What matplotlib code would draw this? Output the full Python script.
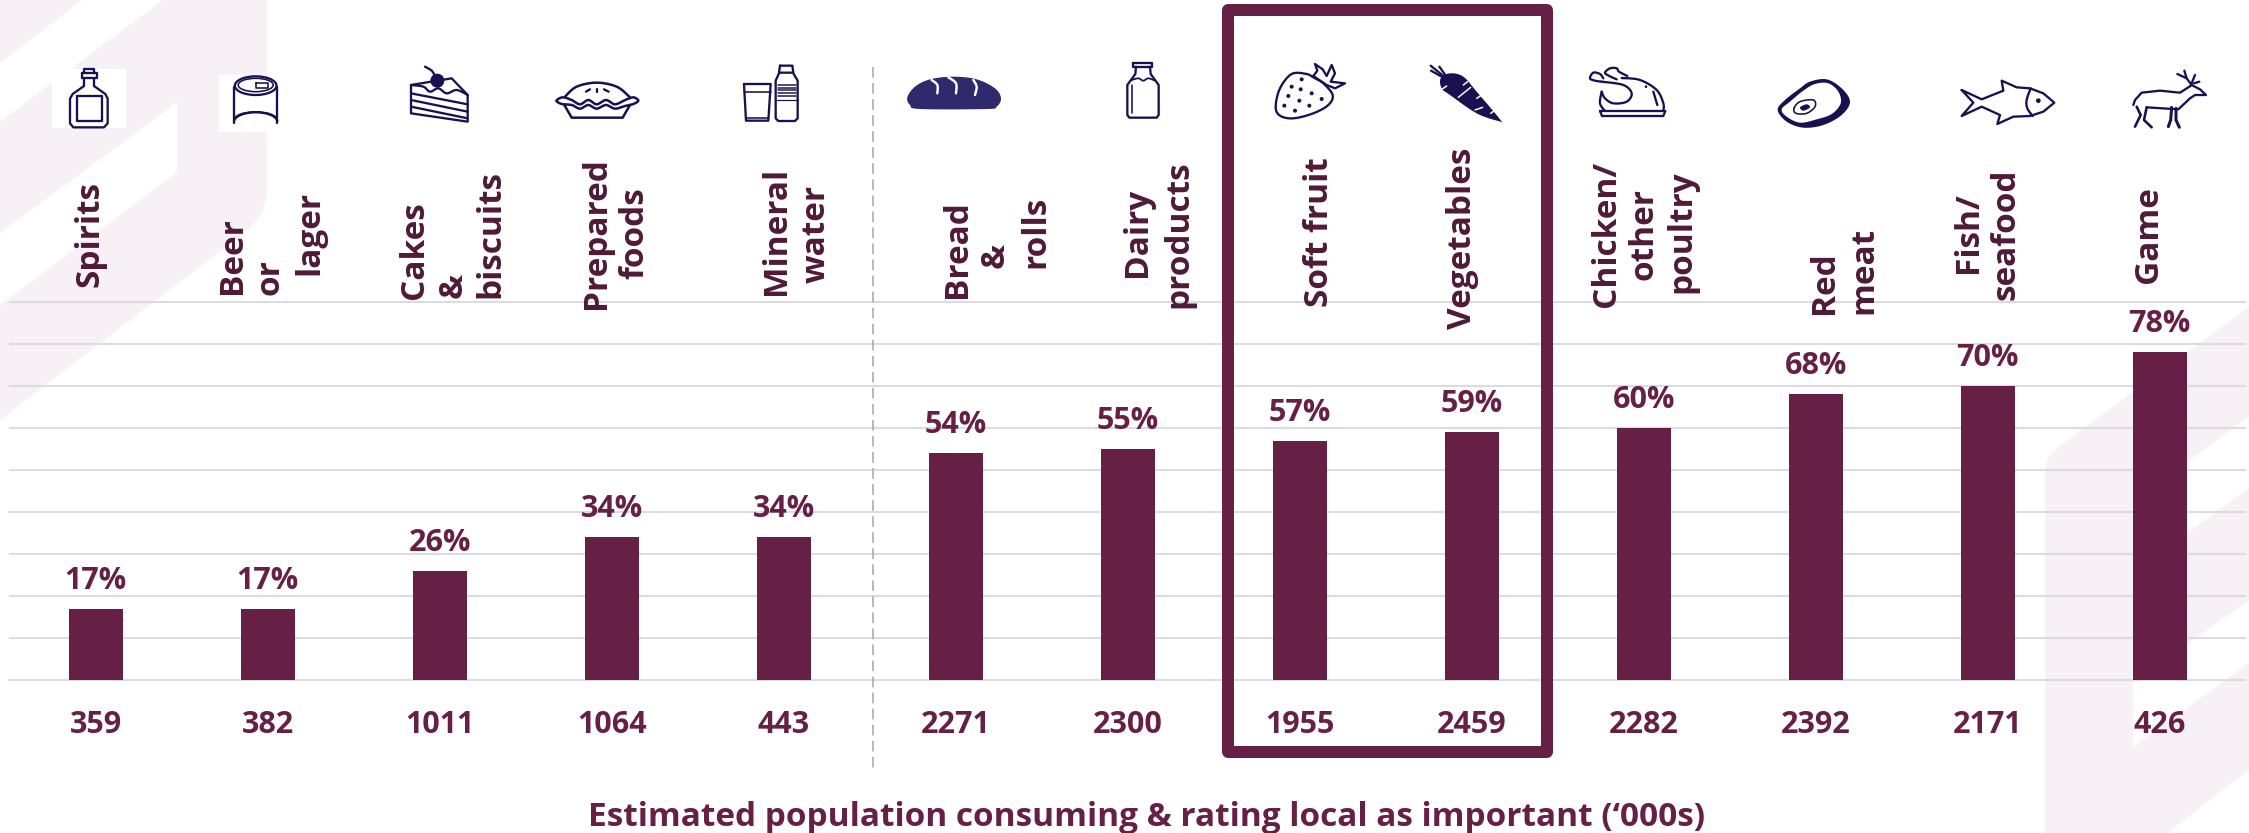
import matplotlib
matplotlib.use('Agg')
import matplotlib.pyplot as plt
import numpy as np
from matplotlib.patches import Polygon, Rectangle, Circle, Ellipse, Arc
from matplotlib.transforms import blended_transform_factory

# chart values
categories = ['Spirits', 'Beer or lager', 'Cakes & biscuits', 'Prepared foods', 'Mineral water',
              'Bread & rolls', 'Dairy products', 'Soft fruit', 'Vegetables', 'Chicken/ other poultry',
              'Red meat', 'Fish/ seafood', 'Game']
pct_values = [17, 17, 26, 34, 34, 54, 55, 57, 59, 60, 68, 70, 78]
population = [359, 382, 1011, 1064, 443, 2271, 2300, 1955, 2459, 2282, 2392, 2171, 426]
x_title = 'Estimated population consuming & rating local as important (‘000s)'

# broken category labels: (line, baseline x, start y) in pixels
label_lines = [
    ('Spirits', 99, 287),
    ('Beer', 241, 294), ('or', 279, 295), ('lager', 318, 275),
    ('Cakes', 423, 299), ('&', 462, 298), ('biscuits', 499, 298),
    ('Prepared', 605, 309), ('foods', 643, 279),
    ('Mineral', 785, 295), ('water', 825, 283),
    ('Bread', 966, 298), ('&', 1004, 268), ('rolls', 1044, 268),
    ('Dairy', 1146, 277), ('products', 1187, 308),
    ('Soft fruit', 1328, 307),
    ('Vegetables', 1471, 329),
    ('Chicken/', 1615, 307), ('other', 1652, 280), ('poultry', 1690, 293),
    ('Red', 1833, 314), ('meat', 1872, 314),
    ('Fish/', 1977, 273), ('seafood', 2015, 300),
    ('Game', 2157, 283),
]

W, H = 2249, 833
WINE = '#662046'
LABEL = '#4f1a38'
NAVY = '#17124f'
PINK = '#f7f0f4'
GRID = '#dcdcdc'
FONT = 'Open Sans'
PX = 0.72  # one pixel in points at dpi 100


def smooth(pts, closed=False, n=12):
    # catmull-rom through the given outline points
    p = np.array(pts, float)
    if closed:
        p = np.vstack([p[-1], p, p[0], p[1]])
    else:
        p = np.vstack([p[0], p, p[-1]])
    out = []
    t = np.linspace(0, 1, n, endpoint=False)[:, None]
    for i in range(1, len(p) - 2):
        a, b, c, d = p[i - 1], p[i], p[i + 1], p[i + 2]
        out.append(0.5 * (2 * b + (c - a) * t + (2 * a - 5 * b + 4 * c - d) * t ** 2 + (3 * b - a - 3 * c + d) * t ** 3))
    out.append(p[-2][None, :])
    return np.vstack(out)


class Icon:
    # draws in 3x magnified coordinates, with an origin in pixels
    def __init__(self, ax, ox=0, oy=0, color=NAVY, lw=2.3):
        self.ax, self.ox, self.oy, self.color, self.lw = ax, ox, oy, color, lw

    def conv(self, pts):
        return np.array(pts, float) / 3 + [self.ox, self.oy]

    def line(self, pts, curve=False, closed=False, lw=None, color=None):
        p = self.conv(pts)
        if curve:
            p = smooth(p, closed)
        elif closed:
            p = np.vstack([p, p[0]])
        self.ax.plot(p[:, 0], p[:, 1], color=color or self.color, lw=(lw or self.lw) * PX,
                     solid_joinstyle='round', solid_capstyle='round', zorder=5)

    def fill(self, pts, curve=True, color=None):
        p = self.conv(pts)
        if curve:
            p = smooth(p, True)
        self.ax.add_patch(Polygon(p, closed=True, fc=color or self.color, ec='none', zorder=5))

    def dot(self, x, y, r, color=None):
        c = self.conv([(x, y)])[0]
        self.ax.add_patch(Circle(c, r / 3, fc=color or self.color, ec='none', zorder=5))

    def ellipse(self, x, y, w, h, lw=None):
        c = self.conv([(x, y)])[0]
        self.ax.add_patch(Ellipse(c, w / 3, h / 3, fc='none', ec=self.color, lw=(lw or self.lw) * PX, zorder=5))

    def arc(self, x, y, w, h, a1, a2, lw=None):
        c = self.conv([(x, y)])[0]
        self.ax.add_patch(Arc(c, w / 3, h / 3, theta1=a1, theta2=a2, ec=self.color, lw=(lw or self.lw) * PX, zorder=5))


def draw_icons(ax):
    # white boxes behind the first two icons
    ax.add_patch(Rectangle((52, 69), 74, 59, fc='white', ec='none', zorder=4))
    ax.add_patch(Rectangle((219, 75), 59, 57, fc='white', ec='none', zorder=4))

    # bottle
    ic = Icon(ax)
    ic.line([(252, 235), (252, 258), (218, 282), (210, 296), (210, 370), (220, 382), (312, 382), (323, 370),
             (323, 296), (316, 282), (282, 258), (282, 235)])
    ic.line([(245, 218), (290, 218), (290, 235), (245, 235)], closed=True)
    ic.line([(252, 218), (252, 208), (282, 208), (282, 218)])
    ic.line([(230, 288), (305, 288), (305, 362), (230, 362)], closed=True)

    # can
    ic.ellipse(767, 257, 125, 56)
    ic.ellipse(767, 255, 105, 40, lw=1.6)
    ic.line([(703, 262), (703, 368)])
    ic.line([(832, 262), (832, 368)])
    ic.arc(767, 365, 130, 56, 180, 360)
    ic.arc(767, 360, 130, 50, 180, 360, lw=1.4)
    ic.line([(768, 248), (805, 248), (805, 264), (768, 264)], closed=True, lw=1.6)

    # cake
    ic = Icon(ax, 380, 50)
    ic.line([(93, 105), (215, 85), (263, 135), (263, 215), (93, 190)], closed=True)
    ic.line([(93, 130), (263, 163)])
    ic.line([(93, 150), (263, 185)])
    ic.line([(93, 170), (263, 205)])
    ic.line([(93, 105), (130, 110), (150, 125), (175, 115), (200, 130), (230, 120), (263, 135)], curve=True)
    ic.dot(172, 92, 21)
    ic.line([(135, 50), (155, 62), (165, 78)], curve=True)

    # pie
    ic.line([(555, 140), (590, 110), (650, 98), (710, 110), (748, 140)], curve=True, lw=2.5)
    ic.line([(530, 152), (548, 142), (575, 150), (600, 163), (625, 150), (650, 163), (678, 150), (705, 163),
             (735, 150), (760, 142), (775, 152), (760, 162), (735, 168), (705, 176), (678, 165), (650, 176),
             (625, 165), (600, 176), (575, 165), (545, 162)], curve=True, closed=True, lw=2.5)
    ic.line([(553, 165), (575, 203), (728, 203), (750, 165)], lw=2.5)
    ic.line([(618, 125), (630, 118)])
    ic.line([(652, 117), (652, 127)])
    ic.line([(672, 118), (686, 125)])

    # glass and water bottle
    ic.line([(1092, 102), (1172, 102), (1165, 212), (1098, 212)], closed=True)
    ic.line([(1092, 125), (1172, 125)], lw=1.6)
    ic.line([(1098, 204), (1165, 204)], lw=1.6)
    ic.line([(1200, 47), (1237, 47), (1240, 68), (1197, 68)], closed=True)
    ic.line([(1197, 70), (1187, 92), (1187, 205), (1195, 213), (1245, 213), (1253, 205), (1253, 92), (1240, 70)])
    for y in (105, 113, 121, 129, 137):
        ic.line([(1193, y), (1247, y)], lw=1.5)
    ic.line([(1187, 150), (1253, 150)], lw=1.2)

    # loaf
    ic = Icon(ax, 890, 50)
    ic.fill([(52, 142), (75, 110), (120, 88), (190, 80), (260, 88), (315, 115), (333, 145), (320, 170),
             (290, 177), (90, 177), (60, 165)], color='#2e2a6b')
    ic.line([(125, 90), (142, 105), (142, 130)], curve=True, color='white', lw=2.4)
    ic.line([(175, 82), (198, 100), (198, 130)], curve=True, color='white', lw=2.4)
    ic.line([(250, 90), (260, 110), (255, 135)], curve=True, color='white', lw=2.4)

    # milk bottle
    ic.line([(730, 38), (785, 38), (785, 50), (730, 50)], closed=True)
    ic.line([(738, 50), (736, 72), (712, 105), (712, 195), (718, 203), (800, 203), (806, 195), (806, 105),
             (782, 72), (780, 50)])
    ic.line([(725, 90), (745, 85), (760, 92), (775, 85), (795, 92)], curve=True, lw=1.8)
    ic.line([(727, 105), (727, 190)], lw=1.6)

    # strawberry
    ic.line([(1250, 72), (1205, 72), (1170, 115), (1157, 170), (1170, 197), (1210, 205), (1270, 190), (1315, 165),
             (1328, 135), (1300, 100), (1275, 85)], curve=True, closed=True)
    for x, y in [(1205, 110), (1235, 88), (1232, 118), (1265, 130), (1195, 138), (1228, 152), (1295, 147),
                 (1258, 167), (1183, 167), (1215, 182)]:
        ic.dot(x, y, 6)
    ic.line([(1270, 78), (1282, 62), (1275, 42), (1298, 58), (1310, 78), (1325, 45), (1335, 70), (1322, 95),
             (1365, 100), (1335, 115), (1310, 105), (1295, 95)], closed=True)

    # carrot
    ic = Icon(ax, 1420, 50)
    ic.fill([(62, 85), (90, 70), (130, 80), (170, 125), (240, 208), (235, 213), (170, 190), (90, 135), (65, 115)])
    ic.line([(32, 47), (70, 78)])
    ic.line([(33, 62), (65, 80)])
    ic.line([(58, 50), (78, 78)])
    for seg in ([(65, 118), (80, 108)], [(115, 142), (152, 112)], [(170, 145), (190, 132)],
                [(165, 180), (188, 172)], [(212, 190), (226, 180)], [(130, 105), (143, 95)]):
        ic.line(seg, color='white', lw=1.5)

    # chicken
    ic.line([(540, 183), (736, 183), (730, 198), (546, 198)], closed=True)
    ic.line([(605, 84), (660, 90), (710, 120), (730, 160), (730, 183)], curve=True)
    ic.line([(555, 183), (540, 160), (545, 125)], curve=True)
    ic.line([(545, 95), (610, 105), (635, 130), (620, 155), (580, 160), (555, 145), (545, 125)], curve=True)
    ic.line([(545, 95), (525, 92), (510, 85), (520, 68), (540, 72), (550, 85)], curve=True)
    ic.line([(590, 88), (568, 78), (555, 68), (570, 55), (590, 55), (597, 65), (622, 78)], curve=True)
    ic.dot(678, 110, 4)
    ic.line([(700, 125), (712, 165)], curve=False)

    # red meat
    ic.fill([(1073, 180), (1095, 150), (1140, 115), (1170, 95), (1220, 88), (1265, 115), (1290, 155), (1265, 195),
             (1210, 225), (1150, 233), (1100, 215)])
    ic.fill([(1085, 178), (1110, 155), (1150, 122), (1185, 102), (1225, 100), (1255, 125), (1262, 160), (1235, 192),
             (1190, 208), (1140, 218), (1100, 200)], color='white')
    ic.line([(1122, 175), (1140, 155), (1180, 150), (1185, 170), (1160, 190), (1128, 190)], curve=True, closed=True, lw=1.6)
    ic.fill([(1140, 172), (1160, 163), (1170, 172), (1150, 182)])

    # fish
    ic = Icon(ax, 1920, 50)
    ic.line([(125, 120), (185, 148), (250, 122), (245, 92), (290, 112), (330, 115), (370, 130), (403, 158),
             (370, 185), (330, 198), (280, 200), (232, 222), (240, 195), (185, 170), (125, 198), (160, 158)], closed=True)
    ic.line([(332, 115), (320, 150), (322, 175), (338, 198)], curve=True)
    ic.dot(355, 152, 7)

    # deer
    ic.line([(640, 165), (645, 150), (665, 128), (720, 122), (780, 128), (805, 112), (815, 105), (840, 118),
             (858, 135), (825, 135), (810, 145), (775, 178), (680, 172)])
    ic.line([(650, 170), (662, 195), (645, 230)], lw=2.6)
    ic.line([(680, 172), (672, 210), (695, 232)], lw=2.6)
    ic.line([(755, 172), (752, 210), (745, 230)], lw=3)
    ic.line([(768, 175), (768, 210), (778, 232)], lw=3)
    ic.line([(815, 105), (800, 85), (793, 62)])
    ic.line([(800, 85), (772, 72)])
    ic.line([(815, 100), (825, 75)])
    ic.line([(822, 100), (838, 95)])


fig = plt.figure(figsize=(W / 100, H / 100), dpi=100, facecolor='white')

# pale background shapes
bg = fig.add_axes([0, 0, 1, 1], zorder=0)
bg.set_xlim(0, W)
bg.set_ylim(H, 0)
bg.axis('off')
bg.add_patch(Polygon([(0, 0), (267, 0), (267, 195), (262, 213), (250, 228), (0, 420)], fc=PINK, ec='none'))
bg.add_patch(Polygon([(82, 0), (163, 0), (0, 122), (0, 63)], fc='white', ec='none'))
bg.add_patch(Polygon([(177, 102), (177, 172), (0, 305), (0, 233)], fc='white', ec='none'))
bg.add_patch(Polygon([(2045, 833), (2045, 470), (2048, 458), (2057, 448), (2249, 307), (2249, 770), (2167, 833)],
                     fc=PINK, ec='none'))
bg.add_patch(Polygon([(2140, 495), (2249, 417), (2249, 488), (2140, 568)], fc='white', ec='none'))
bg.add_patch(Polygon([(2133, 683), (2249, 600), (2249, 663), (2133, 747)], fc='white', ec='none'))

# bars and gridlines
x = np.arange(len(categories))
ax = fig.add_axes([10.5 / W, (H - 680) / H, (2245 - 10.5) / W, 378 / H], zorder=1)
ax.patch.set_alpha(0)
ax.bar(x, pct_values, width=0.314, color=WINE, zorder=3)
ax.set_xlim((10.5 - 95.8) / 172, (2245 - 95.8) / 172)
ax.set_ylim(0, 90)
ax.set_yticks(range(0, 100, 10))
ax.set_xticks([])
ax.tick_params(left=False, labelleft=False)
ax.grid(True, axis='y', color=GRID, lw=1.5)
for gl in ax.get_ygridlines():
    gl.set_clip_on(False)
ax.set_axisbelow(True)
for s in ax.spines.values():
    s.set_visible(False)

# everything placed in pixels goes on a full figure overlay
px = fig.add_axes([0, 0, 1, 1], zorder=2)
px.patch.set_alpha(0)
px.set_xlim(0, W)
px.set_ylim(H, 0)
px.axis('off')

px.plot([873, 873], [67, 768], color='#a6a6a6', lw=1.1, dashes=(7, 3.5))
px.add_patch(Rectangle((1227.5, 9.5), 319.5, 742.5, fc='none', ec=WINE, lw=12 * PX, joinstyle='round', zorder=3))
draw_icons(px)

for i, v in enumerate(pct_values):
    ax.annotate(f'{v}%', (x[i], v), xytext=(0, 20 * PX), textcoords='offset points', ha='center', va='baseline',
                color=WINE, fontsize=22, fontweight='bold', family=FONT, zorder=6)

num_tf = blended_transform_factory(ax.transData, px.transData)
for i, v in enumerate(population):
    px.text(x[i], 733, str(v), transform=num_tf, ha='center', va='baseline', color=WINE,
            fontsize=22, fontweight='bold', family=FONT, clip_on=False)

for text, bx, by in label_lines:
    px.text(bx, by, text, rotation=90, rotation_mode='anchor', ha='left', va='baseline', color=LABEL,
            fontsize=24, fontweight='bold', family=FONT)

px.text(1147, 826, x_title, ha='center', va='baseline', color=WINE, fontsize=24, fontweight='bold', family=FONT)

fig.savefig('out.png', dpi=100)
